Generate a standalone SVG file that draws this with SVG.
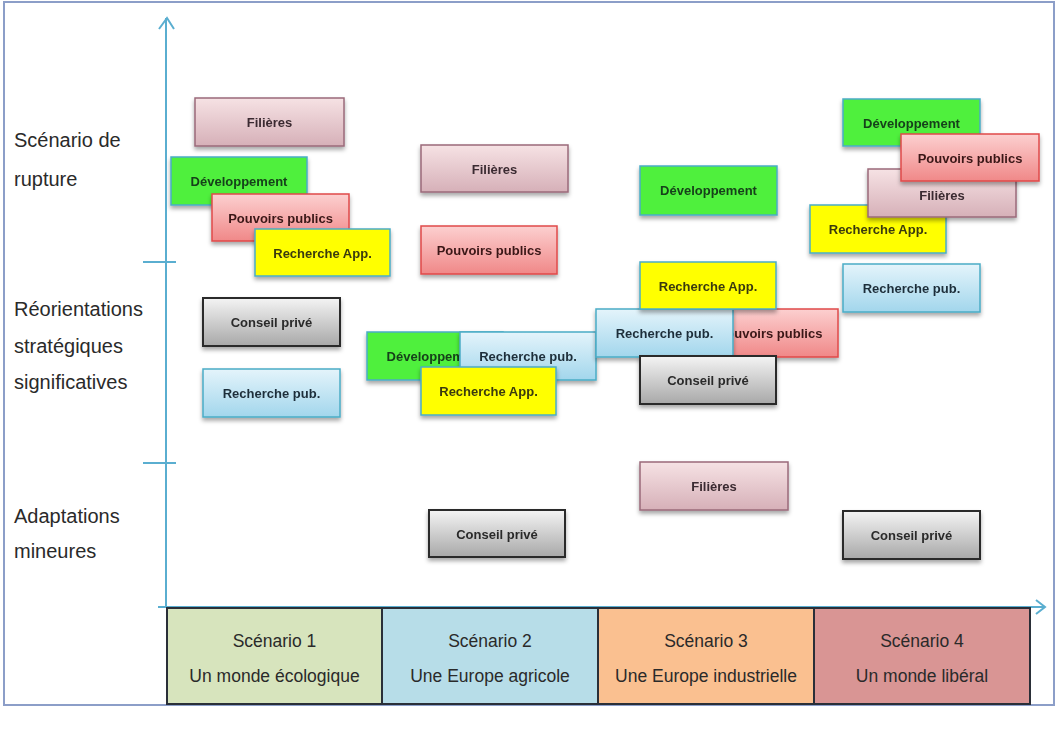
<svg xmlns="http://www.w3.org/2000/svg" width="1060" height="732" viewBox="0 0 1060 732">
<style>
.lbl{font-family:"Liberation Sans",Arial,sans-serif;font-size:20px;fill:#2a2a2a}
.sc{font-family:"Liberation Sans",Arial,sans-serif;font-size:17.5px;fill:#2a2a2a;text-anchor:middle}
.t{font-family:"Liberation Sans",Arial,sans-serif;font-size:13px;font-weight:bold;text-anchor:middle}
.fil rect{fill:url(#gFil);stroke:#9a6a7a;stroke-width:1.5}
.fil text{fill:#3a2a30}
.dev rect{fill:#4ff03c;stroke:#4bacc6;stroke-width:1.5}
.dev text{fill:#17401a}
.pp rect{fill:url(#gPP);stroke:#e04a4a;stroke-width:1.5}
.pp text{fill:#3a1818}
.ra rect{fill:#ffff00;stroke:#4bacc6;stroke-width:1.5}
.ra text{fill:#3a3a10}
.cp rect{fill:url(#gCP);stroke:#2a2a2a;stroke-width:2}
.cp text{fill:#2a2a2a}
.rp rect{fill:url(#gRP);stroke:#4bacc6;stroke-width:1.5}
.rp text{fill:#1f2f3a}
.box{filter:url(#sh)}
.axis{stroke:#5aaed0;stroke-width:2;fill:none}
.scb{stroke:#2a2f38;stroke-width:2}
</style>
<defs>
<linearGradient id="gFil" x1="0" y1="0" x2="0" y2="1"><stop offset="0" stop-color="#f6e2e4"/><stop offset="1" stop-color="#d6b0b8"/></linearGradient>
<linearGradient id="gPP" x1="0" y1="0" x2="0" y2="1"><stop offset="0" stop-color="#fcd0d0"/><stop offset="1" stop-color="#f08888"/></linearGradient>
<linearGradient id="gCP" x1="0" y1="0" x2="0" y2="1"><stop offset="0" stop-color="#f4f4f4"/><stop offset="1" stop-color="#a8a8a8"/></linearGradient>
<linearGradient id="gRP" x1="0" y1="0" x2="0" y2="1"><stop offset="0" stop-color="#e4f4fb"/><stop offset="1" stop-color="#a2d6ec"/></linearGradient>
<filter id="sh" x="-10%" y="-20%" width="120%" height="150%"><feDropShadow dx="0" dy="3" stdDeviation="2" flood-color="#000" flood-opacity="0.35"/></filter>
</defs>
<rect x="0" y="0" width="1060" height="732" fill="#ffffff"/>
<rect x="4" y="2" width="1050" height="703" fill="none" stroke="#8c9ec8" stroke-width="2"/>

<g id="labels">
<text class="lbl" x="14" y="147">Scénario de</text>
<text class="lbl" x="14" y="186">rupture</text>
<text class="lbl" x="14" y="316">Réorientations</text>
<text class="lbl" x="14" y="353">stratégiques</text>
<text class="lbl" x="14" y="389">significatives</text>
<text class="lbl" x="14" y="523">Adaptations</text>
<text class="lbl" x="14" y="558">mineures</text>
</g>

<g id="axes">
<line class="axis" x1="166" y1="18" x2="166" y2="608"/>
<polyline class="axis" points="159,29 167,18 174,29"/>
<line class="axis" x1="143" y1="262" x2="176" y2="262"/>
<line class="axis" x1="143" y1="463" x2="176" y2="463"/>
<line class="axis" x1="158" y1="607" x2="1044" y2="607" stroke="#6a88a8"/>
<polyline class="axis" points="1036,600 1045,607 1036,614" stroke="#6a88a8"/>
</g>

<g id="scenarios">
<g id="sc1"><rect class="scb" x="167" y="608" width="215" height="96" fill="#d7e4bd"/><text class="sc" x="274.5" y="647">Scénario 1</text><text class="sc" x="274.5" y="682">Un monde écologique</text></g>
<g id="sc2"><rect class="scb" x="382" y="608" width="216" height="96" fill="#b7dde8"/><text class="sc" x="490" y="647">Scénario 2</text><text class="sc" x="490" y="682">Une Europe agricole</text></g>
<g id="sc3"><rect class="scb" x="598" y="608" width="216" height="96" fill="#fac090"/><text class="sc" x="706" y="647">Scénario 3</text><text class="sc" x="706" y="682">Une Europe industrielle</text></g>
<g id="sc4"><rect class="scb" x="814" y="608" width="216" height="96" fill="#d99594"/><text class="sc" x="922" y="647">Scénario 4</text><text class="sc" x="922" y="682">Un monde libéral</text></g>
</g>

<g id="col1">
<g id="c1-fil" class="box fil"><rect x="195" y="98" width="149" height="48"/><text class="t" x="269.5" y="127">Filières</text></g>
<g id="c1-dev" class="box dev"><rect x="171" y="157" width="136" height="48"/><text class="t" x="239" y="186">Développement</text></g>
<g id="c1-pp" class="box pp"><rect x="212" y="194" width="137" height="47"/><text class="t" x="280.5" y="223">Pouvoirs  publics</text></g>
<g id="c1-ra" class="box ra"><rect x="255" y="229" width="135" height="47"/><text class="t" x="322.5" y="258">Recherche App.</text></g>
<g id="c1-cp" class="box cp"><rect x="203" y="298" width="137" height="48"/><text class="t" x="271.5" y="327">Conseil privé</text></g>
<g id="c1-rp" class="box rp"><rect x="203" y="369" width="137" height="48"/><text class="t" x="271.5" y="398">Recherche pub.</text></g>
</g>

<g id="col2">
<g id="c2-fil" class="box fil"><rect x="421" y="145" width="147" height="47"/><text class="t" x="494.5" y="174">Filières</text></g>
<g id="c2-pp" class="box pp"><rect x="421" y="226" width="136" height="48"/><text class="t" x="489" y="255">Pouvoirs  publics</text></g>
<g id="c2-dev" class="box dev"><rect x="367" y="332" width="136" height="48"/><text class="t" x="435" y="361">Développement</text></g>
<g id="c2-rp" class="box rp"><rect x="460" y="332" width="136" height="48"/><text class="t" x="528" y="361">Recherche pub.</text></g>
<g id="c2-ra" class="box ra"><rect x="421" y="367" width="135" height="48"/><text class="t" x="488.5" y="396">Recherche App.</text></g>
<g id="c2-cp" class="box cp"><rect x="429" y="510" width="136" height="47"/><text class="t" x="497" y="539">Conseil privé</text></g>
</g>

<g id="col3">
<g id="c3-dev" class="box dev"><rect x="640" y="166" width="137" height="49"/><text class="t" x="708.5" y="195">Développement</text></g>
<g id="c3-pp" class="box pp"><rect x="701" y="309" width="137" height="48"/><text class="t" x="770" y="338">Pouvoirs  publics</text></g>
<g id="c3-rp" class="box rp"><rect x="596" y="309" width="137" height="48"/><text class="t" x="664.5" y="338">Recherche pub.</text></g>
<g id="c3-ra" class="box ra"><rect x="640" y="262" width="136" height="47"/><text class="t" x="708" y="291">Recherche App.</text></g>
<g id="c3-cp" class="box cp"><rect x="640" y="356" width="136" height="48"/><text class="t" x="708" y="385">Conseil privé</text></g>
<g id="c3-fil" class="box fil"><rect x="640" y="462" width="148" height="48"/><text class="t" x="714" y="491">Filières</text></g>
</g>

<g id="col4">
<g id="c4-dev" class="box dev"><rect x="843" y="99" width="137" height="47"/><text class="t" x="911.5" y="128">Développement</text></g>
<g id="c4-ra" class="box ra"><rect x="810" y="205" width="136" height="48"/><text class="t" x="878" y="234">Recherche App.</text></g>
<g id="c4-fil" class="box fil"><rect x="868" y="169" width="148" height="48"/><text class="t" x="942" y="200">Filières</text></g>
<g id="c4-pp" class="box pp"><rect x="901" y="134" width="138" height="47"/><text class="t" x="970" y="163">Pouvoirs  publics</text></g>
<g id="c4-rp" class="box rp"><rect x="843" y="264" width="137" height="48"/><text class="t" x="911.5" y="293">Recherche pub.</text></g>
<g id="c4-cp" class="box cp"><rect x="843" y="511" width="137" height="48"/><text class="t" x="911.5" y="540">Conseil privé</text></g>
</g>
</svg>
